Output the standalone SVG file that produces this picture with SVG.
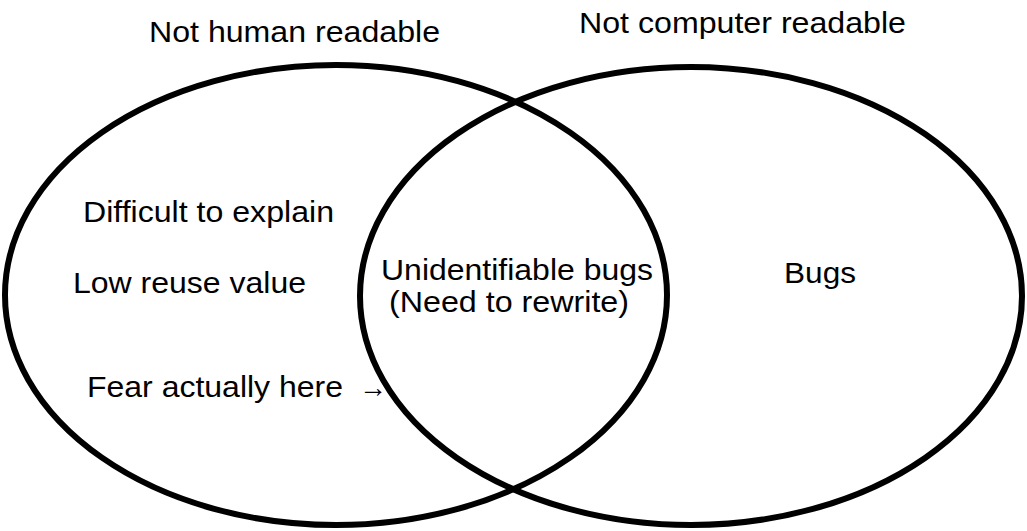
<svg xmlns="http://www.w3.org/2000/svg" width="1027" height="531" viewBox="0 0 1027 531">
<style>
.set{fill:none;stroke:#000;stroke-width:6}
.t{font-family:"Liberation Sans",Arial,sans-serif;font-size:30px;fill:#000}
</style>
<rect width="1027" height="531" fill="#fff"/>
<g id="set-human">
<ellipse class="set" cx="336" cy="295" rx="331" ry="230"/>
<text class="t" x="149" y="42" textLength="291" lengthAdjust="spacingAndGlyphs">Not human readable</text>
<text class="t" x="83" y="222" textLength="251" lengthAdjust="spacingAndGlyphs">Difficult to explain</text>
<text class="t" x="73" y="293" textLength="233" lengthAdjust="spacingAndGlyphs">Low reuse value</text>
<text class="t" x="87" y="397"><tspan textLength="256" lengthAdjust="spacingAndGlyphs">Fear actually here</tspan><tspan x="359" font-size="28">→</tspan></text>
</g>
<g id="set-computer">
<ellipse class="set" cx="691" cy="296" rx="331" ry="229"/>
<text class="t" x="579" y="33" textLength="327" lengthAdjust="spacingAndGlyphs">Not computer readable</text>
<text class="t" x="784" y="283" textLength="72" lengthAdjust="spacingAndGlyphs">Bugs</text>
</g>
<g id="intersection">
<text class="t" x="381" y="280" textLength="272" lengthAdjust="spacingAndGlyphs">Unidentifiable bugs</text>
<text class="t" x="389" y="312" textLength="240" lengthAdjust="spacingAndGlyphs">(Need to rewrite)</text>
</g>
<g id="connectors"></g>
</svg>
